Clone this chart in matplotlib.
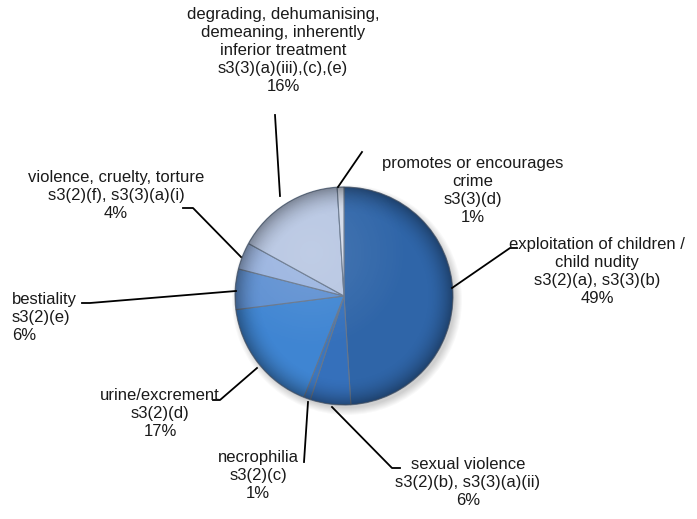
import numpy as np
import matplotlib.pyplot as plt
from matplotlib.patches import Circle

plt.rcParams['font.family'] = ['Liberation Sans', 'DejaVu Sans']

# slices, clockwise from 12 o'clock
categories = [
    "exploitation of children /\nchild nudity\ns3(2)(a), s3(3)(b)",
    "sexual violence\ns3(2)(b), s3(3)(a)(ii)",
    "necrophilia\ns3(2)(c)",
    "urine/excrement\ns3(2)(d)",
    "bestiality\ns3(2)(e)",
    "violence, cruelty, torture\ns3(2)(f), s3(3)(a)(i)",
    "degrading, dehumanising,\ndemeaning, inherently\ninferior treatment\ns3(3)(a)(iii),(c),(e)",
    "promotes or encourages\ncrime\ns3(3)(d)",
]
shares = [49, 6, 1, 17, 6, 4, 16, 1]
colors = ["#2f65a8", "#3570bb", "#3a76c0", "#3f85d2", "#5e90d2",
          "#9ab4e0", "#b7c6e2", "#d3dbea"]

W, H = 697, 519
fig = plt.figure(figsize=(W / 100, H / 100), dpi=100)
ax = fig.add_axes([0, 0, 1, 1])

cx, cy, r = 344, H - 296, 109

# soft shadow
for k in range(8):
    ax.add_patch(Circle((cx + 3, cy - 4), r + 6 - k, color="black",
                        alpha=0.025, lw=0, zorder=1))

wedges, _ = ax.pie(shares, colors=colors, startangle=90, counterclock=False,
                   center=(cx, cy), radius=r, frame=True,
                   wedgeprops=dict(edgecolor="#66768c", linewidth=0.8))
for w in wedges:
    w.set_zorder(2)
ax.set_xlim(0, W)
ax.set_ylim(0, H)
ax.set_aspect("equal")
ax.axis("off")

# rounded shading on the pie
yy, xx = np.mgrid[-1:1:300j, -1:1:300j]
rr = np.sqrt(xx ** 2 + yy ** 2)
shade = np.zeros((300, 300, 4))
shade[..., 3] = np.clip((rr - 0.75) / 0.25, 0, 1) ** 2 * 0.35
im = ax.imshow(shade, extent=(cx - r, cx + r, cy - r, cy + r), zorder=3)
im.set_clip_path(Circle((cx, cy), r, transform=ax.transData))
hl = np.zeros((300, 300, 4))
hl[..., :3] = 1
hl[..., 3] = np.clip(1 - np.sqrt((xx + 0.3) ** 2 + (yy + 0.4) ** 2) / 0.9, 0, 1) * 0.12
im2 = ax.imshow(hl, extent=(cx - r, cx + r, cy - r, cy + r), zorder=3)
im2.set_clip_path(Circle((cx, cy), r, transform=ax.transData))

# label text (x, top y, alignment) and leader lines, in pixels from top-left
labels = [
    (597, 237, "center", [(452, 288), (510, 248), (517, 248)]),
    (468, 457, "center", [(332, 407), (392, 468), (400, 468)]),
    (258, 450, "center", [(308, 402), (304, 462)]),
    (160, 388, "center", [(257, 368), (220, 400), (213, 400)]),
    (12, 292, "left", [(236, 291), (90, 303), (82, 303)]),
    (116, 170, "center", [(241, 257), (193, 208), (183, 208)]),
    (283, 7, "center", [(280, 196), (275, 115)]),
    (473, 156, "center", [(338, 187), (362, 152)]),
]
for (tx, ty, ha, line), cat, val in zip(labels, categories, shares):
    ax.text(tx, H - ty, f"{cat}\n{val}%", ha=ha, va="top", fontsize=12,
            color="#1a1a1a", linespacing=1.25, zorder=5)
    xs = [p[0] for p in line]
    ys = [H - p[1] for p in line]
    ax.plot(xs, ys, color="black", lw=1.3, zorder=4)

fig.savefig("out.png", dpi=100)
